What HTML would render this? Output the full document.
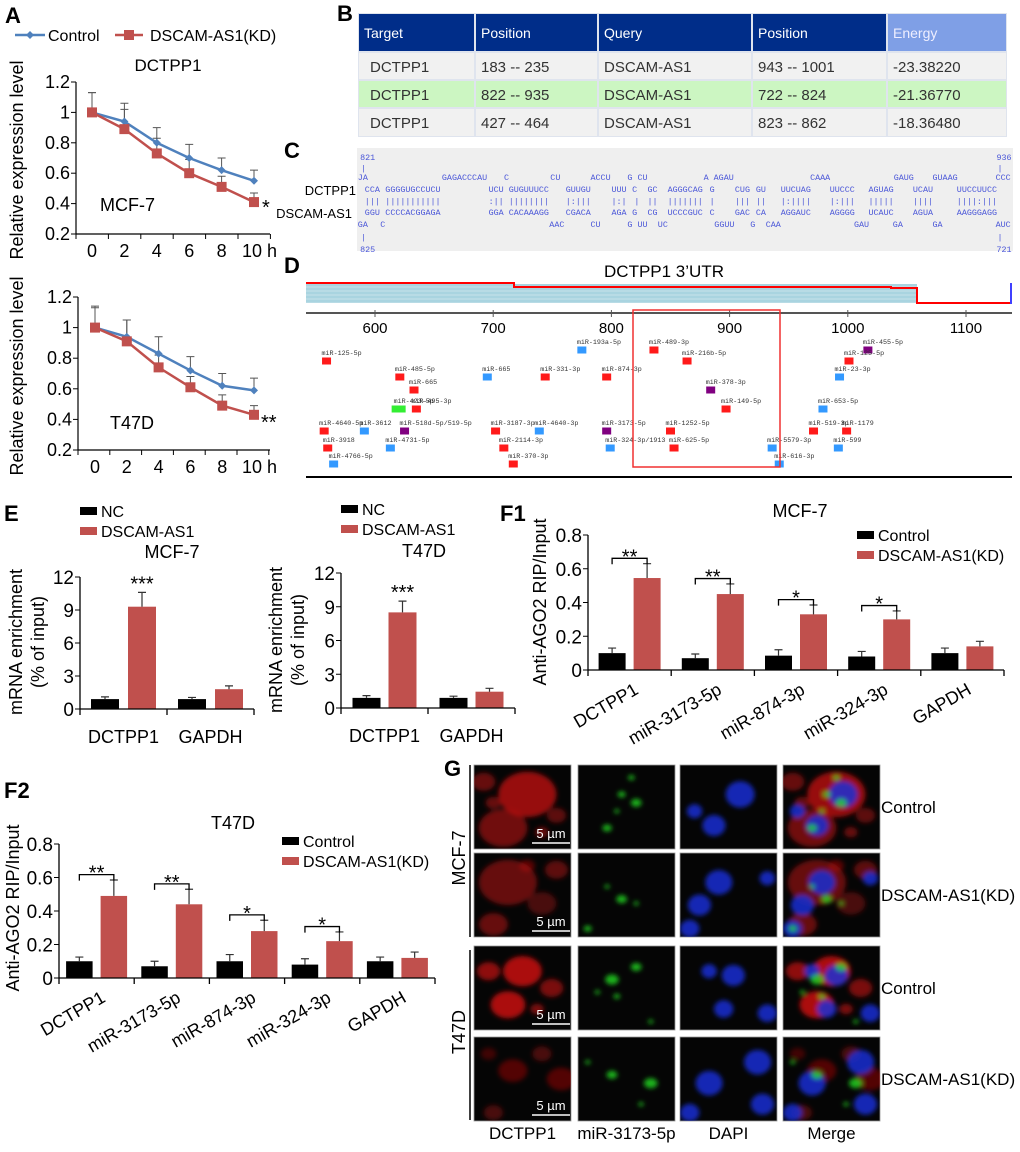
<!DOCTYPE html>
<html><head><meta charset="utf-8">
<style>
body{margin:0;background:#fff;}
svg{display:block;font-family:"Liberation Sans",Arial,sans-serif;}
.mono{font-family:"Liberation Mono","DejaVu Sans Mono",monospace;}
</style></head>
<body>
<svg id="fig" width="1020" height="1152" viewBox="0 0 1020 1152" xmlns="http://www.w3.org/2000/svg">
<defs>
  <filter id="blur" x="-20%" y="-20%" width="140%" height="140%"><feGaussianBlur stdDeviation="2.5"/></filter>
</defs>
<g font-weight="bold" font-size="22" fill="#000">
  <text x="5" y="23">A</text>
  <text x="337" y="21">B</text>
  <text x="284" y="158">C</text>
  <text x="284" y="273">D</text>
  <text x="4" y="521">E</text>
  <text x="500" y="521">F1</text>
  <text x="4" y="798">F2</text>
  <text x="444" y="776">G</text>
</g>
<g id="gA"></g>
<g id="gB"></g>
<g id="gC"></g>
<g id="gD"></g>
<g id="gE"></g>
<g id="gF1"></g>
<g id="gF2"></g>
<g id="gG"></g>
</svg>
<script>
// ---------- DATA ----------
const hours=[0,2,4,6,8,10];
const hourLabels=['0','2','4','6','8','10 h'];
const aYTicks=[0.2,0.4,0.6,0.8,1,1.2];
const aYLabels=['0.2','0.4','0.6','0.8','1','1.2'];
const mcfCtrl=[1,0.94,0.80,0.70,0.62,0.55];
const mcfCtrlErr=[0.13,0.12,0.10,0.09,0.08,0.07];
const mcfKD=[1,0.89,0.73,0.60,0.51,0.41];
const mcfKDErr=[0.13,0.13,0.10,0.09,0.07,0.06];
const t47Ctrl=[1,0.94,0.83,0.72,0.62,0.59];
const t47CtrlErr=[0.14,0.11,0.11,0.09,0.08,0.08];
const t47KD=[1,0.91,0.74,0.61,0.49,0.43];
const t47KDErr=[0.13,0.14,0.08,0.07,0.07,0.06];

const eCats=['DCTPP1','GAPDH'];
const eYTicks=[0,3,6,9,12];
const eYLabels=['0','3','6','9','12'];
const eMcfNC=[0.9,0.9];
const eMcfNCErr=[0.2,0.15];
const eMcfAS=[9.3,1.8];
const eMcfASErr=[1.3,0.3];
const eMcfStars=['***',''];
const eT47NC=[0.9,0.9];
const eT47NCErr=[0.2,0.15];
const eT47AS=[8.5,1.45];
const eT47ASErr=[1.0,0.3];
const eT47Stars=['***',''];

const fCats=['DCTPP1','miR-3173-5p','miR-874-3p','miR-324-3p','GAPDH'];
const fYTicks=[0,0.2,0.4,0.6,0.8];
const fYLabels=['0','0.2','0.4','0.6','0.8'];
const f1Ctrl=[0.10,0.07,0.085,0.08,0.10];
const f1CtrlErr=[0.03,0.025,0.035,0.03,0.03];
const f1KD=[0.545,0.45,0.33,0.30,0.14];
const f1KDErr=[0.085,0.06,0.055,0.05,0.03];
const f1Stars=['**','**','*','*',''];
const f2Ctrl=[0.10,0.07,0.10,0.08,0.10];
const f2CtrlErr=[0.025,0.03,0.04,0.035,0.025];
const f2KD=[0.49,0.44,0.28,0.22,0.12];
const f2KDErr=[0.095,0.09,0.065,0.055,0.035];
const f2Stars=['**','**','*','*',''];

const tblHeaders=['Target','Position','Query','Position','Energy'];
const tblRow1=['DCTPP1','183 -- 235','DSCAM-AS1','943 -- 1001','-23.38220'];
const tblRow2=['DCTPP1','822 -- 935','DSCAM-AS1','722 -- 824','-21.36770'];
const tblRow3=['DCTPP1','427 -- 464','DSCAM-AS1','823 -- 862','-18.36480'];

const utrTicks=[600,700,800,900,1000,1100];
const mirNames=['miR-125-5p','miR-485-5p','miR-665','miR-423-5p','miR-495-3p','miR-4640-5p','miR-3918','miR-4766-5p','miR-3612','miR-518d-5p/519-5p','miR-4731-5p','miR-665','miR-331-3p','miR-3187-3p','miR-4640-3p','miR-2114-3p','miR-370-3p','miR-193a-5p','miR-874-3p','miR-489-3p','miR-216b-5p','miR-378-3p','miR-149-5p','miR-3173-5p','miR-1252-5p','miR-324-3p/1913','miR-625-5p','miR-5579-3p','miR-616-3p','miR-519-3p','miR-599','miR-455-5p','miR-125-5p','miR-23-3p','miR-653-5p','miR-1179'];
const mirSitePos=[559,621,633,620,635,557,560,565,591,625,613,695,744,702,739,709,717,775,796,836,864,884,897,796,850,799,853,936,942,971,992,1017,1001,993,979,999];
const mirRow=[1,2,3,4,4,5,6,7,5,5,6,2,2,5,5,6,7,0,2,0,1,3,4,5,5,6,6,6,7,5,6,0,1,2,4,5];
const mirType=['r','r','r','g','r','r','r','b','b','p','b','b','r','r','b','r','r','b','r','r','r','p','r','p','r','b','r','b','b','r','b','p','r','b','b','r'];

// ---------- HELPERS ----------
const NS='http://www.w3.org/2000/svg';
function mk(tag,attrs,parent){const e=document.createElementNS(NS,tag);for(const k in attrs)e.setAttribute(k,attrs[k]);parent.appendChild(e);return e;}
function txt(parent,x,y,s,attrs){const t=mk('text',Object.assign({x:x,y:y},attrs||{}),parent);t.textContent=s;return t;}

// ---------- PANEL A ----------
const gA=document.getElementById('gA');
let l1=mk('line',{x1:15,y1:35,x2:45,y2:35,stroke:'#4f81bd','stroke-width':2.5},gA);


let d1=mk('path',{d:'M30 31 L34 35 L30 39 L26 35 Z',fill:'#4f81bd'},gA);


let lt1=txt(gA,48,41,'Control',{'font-size':16});


let l2=mk('line',{x1:115,y1:35,x2:143,y2:35,stroke:'#c0504d','stroke-width':2.5},gA);


let s2=mk('rect',{x:124,y:30,width:10,height:10,fill:'#c0504d'},gA);


let lt2=txt(gA,150,41,'DSCAM-AS1(KD)',{'font-size':16});


let at=txt(gA,168,71,'DCTPP1',{'font-size':17,'text-anchor':'middle'});



function lineChart(g,c,ctrl,ctrlErr,kd,kdErr,name){
  const X=h=>c.x0+h*c.dx;
  const Y=v=>c.yb-(v-0.2)*c.ys;
  let ax=mk('line',{x1:c.axisX,y1:Y(1.2),x2:c.axisX,y2:Y(0.2),stroke:'#000','stroke-width':1.2},g);
  
  
  let xa=mk('line',{x1:c.axisX,y1:Y(0.2),x2:c.axisRight,y2:Y(0.2),stroke:'#000','stroke-width':1.2},g);
  
  
  aYTicks.forEach((v,i)=>{
    mk('line',{x1:c.axisX-5,y1:Y(v),x2:c.axisX,y2:Y(v),stroke:'#000'},g);
    let t=txt(g,c.axisX-6,Y(v)+6,aYLabels[i],{'font-size':18,'text-anchor':'end'});
    
    
  });
  for(let i=0;i<=hours.length;i++){const xx=c.axisX+i*2*c.dx;mk('line',{x1:xx,y1:Y(0.2),x2:xx,y2:Y(0.2)+5,stroke:'#000'},g);}
  hours.forEach((h,i)=>{
    const last=i===hours.length-1;
    let t=txt(g,last?X(h)-12:X(h),Y(0.2)+23,hourLabels[i],{'font-size':18,'text-anchor':last?'start':'middle'});
    
    
  });
  [[ctrl,ctrlErr],[kd,kdErr]].forEach(([vals,errs])=>{
    vals.forEach((v,i)=>{
      const x=X(hours[i]);
      let e=mk('path',{d:`M${x} ${Y(v)} V${Y(v+errs[i])} M${x-4} ${Y(v+errs[i])} H${x+4}`,stroke:'#555','stroke-width':1,fill:'none'},g);
      
      
    });
  });
  let p1=mk('polyline',{points:ctrl.map((v,i)=>X(hours[i])+','+Y(v)).join(' '),fill:'none',stroke:'#4f81bd','stroke-width':2.5},g);
  
  
  let p2=mk('polyline',{points:kd.map((v,i)=>X(hours[i])+','+Y(v)).join(' '),fill:'none',stroke:'#c0504d','stroke-width':2.5},g);
  
  
  ctrl.forEach((v,i)=>{const x=X(hours[i]),y=Y(v);
    let m=mk('path',{d:`M${x} ${y-4} L${x+4} ${y} L${x} ${y+4} L${x-4} ${y} Z`,fill:'#4f81bd'},g);
    
    });
  kd.forEach((v,i)=>{const x=X(hours[i]),y=Y(v);
    let m=mk('rect',{x:x-5,y:y-5,width:10,height:10,fill:'#c0504d'},g);
    
    });
  let yt=txt(g,0,0,'Relative expression level',{'font-size':18,'text-anchor':'middle',transform:`translate(${c.titleX},${c.titleY}) rotate(-90)`});
  
  
}
lineChart(gA,{x0:92,dx:16.2,yb:234,ys:152,axisX:76,axisRight:270,titleX:23,titleY:160},mcfCtrl,mcfCtrlErr,mcfKD,mcfKDErr,'mcf7-line-chart');
lineChart(gA,{x0:95,dx:15.9,yb:450,ys:153,axisX:78,axisRight:270,titleX:23,titleY:376},t47Ctrl,t47CtrlErr,t47KD,t47KDErr,'t47d-line-chart');
let m1=txt(gA,100,211,'MCF-7',{'font-size':18});


let m2=txt(gA,110,429,'T47D',{'font-size':18});


let st1=txt(gA,262,214,'*',{'font-size':20});


let st2=txt(gA,261,429,'**',{'font-size':20});



// ---------- PANEL B ----------
const gB=document.getElementById('gB');
const colX=[358,475,598,752,887,1007];
const rowY=[13,52,80,108,137];
mk('rect',{x:358,y:13,width:649,height:124,fill:'#dfe4ee'},gB);
tblHeaders.forEach((h,i)=>{
  let r=mk('rect',{x:colX[i]+1,y:14,width:colX[i+1]-colX[i]-2,height:37,fill:i===4?'#7f9fe6':'#002d89'},gB);
  
  
  let t=txt(gB,colX[i]+6,38,h,{'font-size':14,fill:i===4?'#eef':'#fff','font-family':'"Liberation Sans Narrow","Liberation Sans",sans-serif'});
  
  
});
[tblRow1,tblRow2,tblRow3].forEach((row,ri)=>{
  row.forEach((v,i)=>{
    let r=mk('rect',{x:colX[i]+1,y:rowY[ri+1]+1,width:colX[i+1]-colX[i]-2,height:rowY[ri+2]-rowY[ri+1]-2,fill:ri===1?'#ccf6c2':'#f1f1f1'},gB);
    
    
    let t=txt(gB,colX[i]+(i===0?12:6),rowY[ri+1]+20,v,{'font-size':15,fill:'#333','font-family':'"Liberation Sans Narrow","Liberation Sans",sans-serif'});
    
    
  });
});

// ---------- PANEL C ----------
const gC=document.getElementById('gC');
let cb=mk('rect',{x:357,y:148,width:656,height:103,fill:'#efefef'},gC);


const seqLines=[
 [177,[[145,'JA'],[325,'GAGACCCAU'],[458,'C'],[557,'CU'],[643,'ACCU'],[722,'G CU'],[885,'A AGAU'],[1113,'CAAA'],[1292,'GAUG'],[1375,'GUAAG'],[1510,'CCC']]],
 [189,[[160,'CCA'],[204,'GGGGUGCCUCU'],[425,'UCU'],[468,'GUGUUUCC'],[590,'GUUGU'],[688,'UUU'],[732,'C'],[765,'GC'],[808,'AGGGCAG'],[898,'G'],[952,'CUG'],[997,'GU'],[1050,'UUCUAG'],[1155,'UUCCC'],[1238,'AGUAG'],[1333,'UCAU'],[1427,'UUCCUUCC']]],
 [201,[[160,'|||'],[204,'|||||||||||'],[425,':||'],[468,'||||||||'],[590,'|:|||'],[688,'|:|'],[737,'|'],[765,'||'],[808,'|||||||'],[898,'|'],[952,'|||'],[997,'||'],[1050,'|:||||'],[1155,'|:|||'],[1238,'|||||'],[1333,'||||'],[1427,'||||:|||']]],
 [212,[[160,'GGU'],[204,'CCCCACGGAGA'],[425,'GGA'],[468,'CACAAAGG'],[590,'CGACA'],[688,'AGA'],[732,'G'],[765,'CG'],[808,'UCCCGUC'],[898,'C'],[952,'GAC'],[997,'CA'],[1050,'AGGAUC'],[1155,'AGGGG'],[1238,'UCAUC'],[1333,'AGUA'],[1427,'AAGGGAGG']]],
 [224,[[145,'GA'],[193,'C'],[555,'AAC'],[643,'CU'],[722,'G UU'],[787,'UC'],[908,'GGUU'],[985,'G'],[1018,'CAA'],[1207,'GAU'],[1290,'GA'],[1375,'GA'],[1510,'AUC']]],
 [157,[[150,'821'],[1512,'936']]],[168,[[152,'|'],[1514,'|']]],[237,[[152,'|'],[1514,'|']]],[249,[[150,'825'],[1512,'721']]]
];
seqLines.forEach(([y,segs])=>segs.forEach(([zx,s])=>{
  let t=txt(gC,(290+zx/2.14).toFixed(1),y+3,s,{'font-size':8.4,fill:'#4a56d8','class':'mono','xml:space':'preserve'});
  
  
}));
let cl1=txt(gC,356,195,'DCTPP1',{'font-size':13,'text-anchor':'end'});


let cl2=txt(gC,352,218,'DSCAM-AS1',{'font-size':13,'text-anchor':'end'});



// ---------- PANEL D ----------
const gD=document.getElementById('gD');
const ux=p=>375+(p-600)*1.182;
let dt=txt(gD,664,277,'DCTPP1 3\u2019UTR',{'font-size':17,'text-anchor':'middle'});


let ub=mk('rect',{x:306,y:284,width:611,height:19,fill:'#a9d4e0'},gD);


for(let i=0;i<5;i++)mk('line',{x1:306,x2:1010,y1:287+i*4,y2:287+i*4,stroke:'#ffffff','stroke-opacity':0.45,'stroke-width':0.8},gD);
let ro=mk('path',{d:'M306 283 H514 V287 H891 V288 H917 V303 H1010',fill:'none',stroke:'#f00','stroke-width':2},gD);


mk('line',{x1:1011,y1:283,x2:1011,y2:304,stroke:'#00f','stroke-width':1.5},gD);
let dax=mk('line',{x1:306,y1:313,x2:1012,y2:313,stroke:'#555','stroke-width':2},gD);


utrTicks.forEach(v=>{
  mk('line',{x1:ux(v),y1:310,x2:ux(v),y2:317,stroke:'#555'},gD);
  let t=txt(gD,ux(v),333,String(v),{'font-size':15,'text-anchor':'middle'});
  
  
});
const mirColors={r:'#ff1a1a',b:'#3399ff',p:'#800080',g:'#33ee33'};
const rowYs=[350,361,377,390,409,431,448,464];
mirNames.forEach((n,i)=>{
  const cx=ux(mirSitePos[i]);
  const cy=rowYs[mirRow[i]];
  const w=mirType[i]==='g'?14:9;
  let sq=mk('rect',{x:cx-w/2,y:cy-3.5,width:w,height:7,fill:mirColors[mirType[i]]},gD);
  
  
  let t=txt(gD,cx-5,cy-6,n,{'font-size':6.7,fill:'#333','class':'mono'});
  
  
});
let hb=mk('rect',{x:633,y:310,width:147,height:157,fill:'none',stroke:'#f03030','stroke-width':1.5},gD);


let bl=mk('line',{x1:306,y1:477,x2:1012,y2:477,stroke:'#000','stroke-width':2},gD);



// ---------- BAR CHARTS ----------
function barChart(g,c,cats,bV,bE,rV,rE,stars,yT,yL,name){
  const Y=v=>c.y0-(v/c.max)*(c.y0-c.yTop);
  const gw=(c.axisRight-c.axisX)/cats.length;
  let ya=mk('line',{x1:c.axisX,y1:Y(c.max),x2:c.axisX,y2:c.y0,stroke:'#000','stroke-width':1.3},g);
  
  
  yT.forEach((v,i)=>{
    mk('line',{x1:c.axisX-5,y1:Y(v),x2:c.axisX,y2:Y(v),stroke:'#000'},g);
    let t=txt(g,c.axisX-6,Y(v)+7,yL[i],{'font-size':19,'text-anchor':'end'});
    
    
  });
  cats.forEach((cat,i)=>{
    const cx=c.axisX+(i+0.5)*gw;
    const bx=cx-c.gap/2-c.w, rx=cx+c.gap/2;
    let b=mk('rect',{x:bx,y:Y(bV[i]),width:c.w,height:c.y0-Y(bV[i]),fill:'#000'},g);
    
    
    let r=mk('rect',{x:rx,y:Y(rV[i]),width:c.w,height:c.y0-Y(rV[i]),fill:'#c0504d'},g);
    
    
    [[bx,bV[i],bE[i]],[rx,rV[i],rE[i]]].forEach(([x0,v,e])=>{
      const x=x0+c.w/2;
      let eb=mk('path',{d:`M${x} ${Y(v)} V${Y(v+e)} M${x-4} ${Y(v+e)} H${x+4}`,stroke:'#333','stroke-width':1.2,fill:'none'},g);
      
      
    });
    if(stars[i]){
      const top=Math.max(bV[i]+bE[i],rV[i]+rE[i]);
      if(c.bracket){
        const by=Y(top+c.max*0.04);
        let br=mk('path',{d:`M${bx+c.w/2} ${by+6} V${by} H${rx+c.w/2} V${by+6}`,stroke:'#000','stroke-width':1.3,fill:'none'},g);
        
        
        let st=txt(g,(bx+rx+c.w)/2,by+5,stars[i],{'font-size':20,'text-anchor':'middle'});
        
        
      } else {
        let st=txt(g,rx+c.w/2,Y(top)-2,stars[i],{'font-size':20,'text-anchor':'middle'});
        
        
      }
    }
    let lab;
    if(c.rotate){
      const ex=cx+10, ey=c.y0+23;
      lab=txt(g,ex,ey,cat,{'font-size':18,'text-anchor':'end',transform:`rotate(-30 ${ex} ${ey})`});
    } else {
      lab=txt(g,cx,c.y0+34,cat,{'font-size':18,'text-anchor':'middle'});
    }
    
    
  });
  let xa=mk('line',{x1:c.axisX,y1:c.y0,x2:c.axisRight,y2:c.y0,stroke:'#000','stroke-width':1.3},g);
  
  
  for(let i=0;i<=cats.length;i++){const x=c.axisX+i*gw;mk('line',{x1:x,y1:c.y0,x2:x,y2:c.y0+6,stroke:'#000','stroke-width':1.3},g);}
}
function legend(g,x,y1,y2,l1,l2,name){
  let a=mk('rect',{x:x,y:y1-4,width:17,height:8,fill:'#000'},g);
  
  
  let at=txt(g,x+21,y1+6,l1,{'font-size':16});
  
  
  let b=mk('rect',{x:x,y:y2-4,width:17,height:8,fill:'#c0504d'},g);
  
  
  let bt=txt(g,x+21,y2+6,l2,{'font-size':16});
  
  
}
function title(g,x,y,s,name){let t=txt(g,x,y,s,{'font-size':18,'text-anchor':'middle'});}
function ytitle(g,x,y,s,name){let t=txt(g,0,0,s,{'font-size':18,'text-anchor':'middle',transform:`translate(${x},${y}) rotate(-90)`});}

const gE=document.getElementById('gE');
legend(gE,80,511,531,'NC','DSCAM-AS1','e-mcf7');
legend(gE,341,509,529,'NC','DSCAM-AS1','e-t47d');
title(gE,172,558,'MCF-7','e-mcf7-title');
title(gE,424,557,'T47D','e-t47d-title');
barChart(gE,{axisX:80,axisRight:254,y0:709,yTop:577,max:12,gap:9,w:28},eCats,eMcfNC,eMcfNCErr,eMcfAS,eMcfASErr,eMcfStars,eYTicks,eYLabels,'e-mcf7');
barChart(gE,{axisX:341,axisRight:515,y0:708,yTop:573,max:12,gap:8,w:28},eCats,eT47NC,eT47NCErr,eT47AS,eT47ASErr,eT47Stars,eYTicks,eYLabels,'e-t47d');
ytitle(gE,22,642,'mRNA enrichment','e-mcf7-y-title-line1');
ytitle(gE,44,642,'(% of input)','e-mcf7-y-title-line2');
ytitle(gE,282,640,'mRNA enrichment','e-t47d-y-title-line1');
ytitle(gE,304,640,'(% of input)','e-t47d-y-title-line2');

const gF1=document.getElementById('gF1');
title(gF1,800,517,'MCF-7','f1-title');
legend(gF1,857,535,555,'Control','DSCAM-AS1(KD)','f1');
barChart(gF1,{axisX:588,axisRight:1004,y0:670,yTop:535,max:0.8,gap:8,w:27,rotate:true,bracket:true},fCats,f1Ctrl,f1CtrlErr,f1KD,f1KDErr,f1Stars,fYTicks,fYLabels,'f1');
ytitle(gF1,546,602,'Anti-AGO2 RIP/Input','f1-y-title');

const gF2=document.getElementById('gF2');
title(gF2,233,829,'T47D','f2-title');
legend(gF2,282,841,861,'Control','DSCAM-AS1(KD)','f2');
barChart(gF2,{axisX:59,axisRight:435,y0:978,yTop:844,max:0.8,gap:8,w:26.5,rotate:true,bracket:true},fCats,f2Ctrl,f2CtrlErr,f2KD,f2KDErr,f2Stars,fYTicks,fYLabels,'f2');
ytitle(gF2,19,908,'Anti-AGO2 RIP/Input','f2-y-title');

// ---------- PANEL G ----------
const gG=document.getElementById('gG');
const gCols=[474,578,680,783], gRows=[765,853,946,1037], gw=97, gh=84;
const blobs=[
 {r:[[.55,.35,.3,.75],[.3,.75,.25,.55],[.1,.2,.12,.5],[.85,.6,.1,.45],[.2,.45,.08,.5],[.7,.8,.07,.5]], g:[[.45,.35,.06],[.6,.45,.08],[.3,.75,.07],[.55,.15,.05],[.4,.55,.04]], b:[[.62,.35,.15],[.35,.72,.12],[.15,.55,.08]]},
 {r:[[.35,.35,.3,.5],[.2,.85,.15,.5],[.85,.2,.12,.45],[.7,.6,.15,.35],[.55,.15,.08,.4]], g:[[.45,.55,.08],[.3,.4,.04],[.1,.9,.06],[.6,.6,.04]], b:[[.4,.35,.14],[.2,.62,.12],[.9,.3,.08],[.1,.9,.1]]},
 {r:[[.5,.3,.2,.85],[.35,.7,.18,.85],[.15,.3,.12,.7],[.8,.5,.12,.6],[.65,.75,.07,.6]], g:[[.35,.4,.1],[.6,.25,.08],[.4,.6,.05],[.75,.9,.04],[.2,.55,.04]], b:[[.55,.35,.12],[.3,.3,.08],[.45,.75,.1],[.9,.8,.1]]},
 {r:[[.4,.4,.15,.4],[.9,.5,.15,.4],[.2,.9,.1,.35],[.7,.2,.1,.35],[.15,.2,.08,.3]], g:[[.35,.45,.08],[.75,.55,.1],[.1,.3,.04],[.65,.8,.04]], b:[[.3,.55,.14],[.8,.3,.14],[.85,.8,.12],[.1,.9,.1]]}
];
const gLabelsRight=['Control','DSCAM-AS1(KD)','Control','DSCAM-AS1(KD)'];
const gColLabels=['DCTPP1','miR-3173-5p','DAPI','Merge'];
gRows.forEach((ry,ri)=>{
  gCols.forEach((cx,ci)=>{
    const cid='clip'+ri+'_'+ci;
    const cp=mk('clipPath',{id:cid},gG);
    mk('rect',{x:cx,y:ry,width:gw,height:gh},cp);
    let bg=mk('rect',{x:cx,y:ry,width:gw,height:gh,fill:'#050505',stroke:'#999','stroke-width':0.8},gG);
    
    
    const gg=mk('g',{'clip-path':`url(#${cid})`},gG);
    const inner=mk('g',{filter:'url(#blur)'},gg);
    const B=blobs[ri];
    const drawR=()=>B.r.forEach(([x,y,r,o])=>mk('ellipse',{cx:cx+x*gw,cy:ry+y*gh,rx:r*gw,ry:r*gh*0.9,fill:'#c81010','fill-opacity':o},inner));
    const drawG=()=>B.g.forEach(([x,y,r])=>mk('ellipse',{cx:cx+x*gw,cy:ry+y*gh,rx:r*gw*0.7,ry:r*gh*0.6,fill:'#22dd22','fill-opacity':0.8},inner));
    const drawB=()=>B.b.forEach(([x,y,r])=>mk('ellipse',{cx:cx+x*gw,cy:ry+y*gh,rx:r*gw,ry:r*gh*1.05,fill:'#1530e0','fill-opacity':0.8},inner));
    if(ci===0)drawR(); else if(ci===1)drawG(); else if(ci===2)drawB(); else {drawR();drawB();drawG();}
  });
  let sb=mk('line',{x1:532,y1:ry+gh-6,x2:570,y2:ry+gh-6,stroke:'#fff','stroke-width':1.5},gG);
  
  
  let sbt=txt(gG,551,ry+gh-11,'5 \u00b5m',{'font-size':13,fill:'#fff','text-anchor':'middle'});
  
  
  let rl=txt(gG,881,ry+gh/2+6,gLabelsRight[ri],{'font-size':17});
  
  
});
gColLabels.forEach((s,i)=>{
  let t=txt(gG,gCols[i]+gw/2,1139,s,{'font-size':17,'text-anchor':'middle'});
  
  
});
let vl1=mk('line',{x1:470,y1:765,x2:470,y2:937,stroke:'#000','stroke-width':1.5},gG);


let vl2=mk('line',{x1:470,y1:950,x2:470,y2:1120,stroke:'#000','stroke-width':1.5},gG);


ytitle(gG,465,858,'MCF-7','g-mcf7-label');
ytitle(gG,465,1032,'T47D','g-t47d-label');
</script>
</body></html>
